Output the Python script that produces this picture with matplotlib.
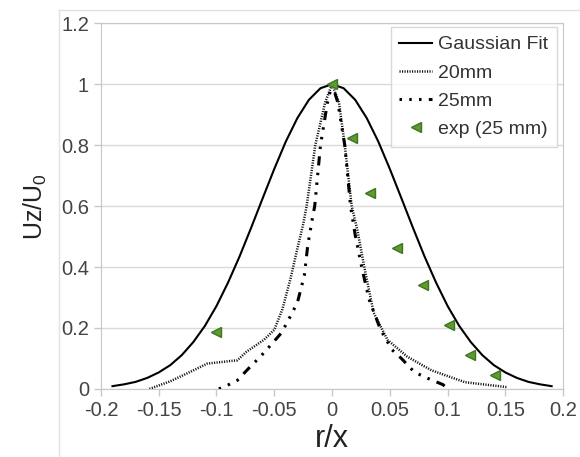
import matplotlib
matplotlib.use('Agg')
from matplotlib import pyplot as plt
from matplotlib.lines import Line2D

plt.rcParams['font.family'] = ['Liberation Sans', 'DejaVu Sans']
plt.rcParams['mathtext.default'] = 'regular'

# Gaussian fit
gauss_x = [-0.19, -0.18, -0.17, -0.16, -0.15, -0.14, -0.13, -0.12, -0.11, -0.10,
           -0.09, -0.08, -0.07, -0.06, -0.05, -0.04, -0.03, -0.02, -0.01, 0.0,
           0.01, 0.02, 0.03, 0.04, 0.05, 0.06, 0.07, 0.08, 0.09, 0.10,
           0.11, 0.12, 0.13, 0.14, 0.15, 0.16, 0.17, 0.18, 0.19]
gauss_y = [0.009, 0.015, 0.023, 0.036, 0.054, 0.078, 0.111, 0.154, 0.207, 0.272,
           0.349, 0.435, 0.529, 0.626, 0.722, 0.812, 0.889, 0.949, 0.987, 1.0,
           0.987, 0.949, 0.889, 0.812, 0.722, 0.626, 0.529, 0.435, 0.349, 0.272,
           0.207, 0.154, 0.111, 0.078, 0.054, 0.036, 0.023, 0.015, 0.009]

# 20mm
x20 = [-0.158, -0.14, -0.126, -0.108, -0.094, -0.082, -0.074, -0.059, -0.050,
       -0.043, -0.036, -0.030, -0.025, -0.022, -0.0145, -0.006, 0.0,
       0.006, 0.011, 0.017, 0.022, 0.0276, 0.036, 0.048, 0.065, 0.086, 0.115, 0.151]
y20 = [0.0, 0.025, 0.05, 0.083, 0.089, 0.094, 0.122, 0.161, 0.194,
       0.261, 0.361, 0.461, 0.54, 0.6, 0.8, 0.94, 1.0,
       0.94, 0.8, 0.6, 0.52, 0.406, 0.25, 0.161, 0.106, 0.061, 0.022, 0.006]

# 25mm
x25 = [-0.098, -0.091, -0.082, -0.071, -0.062, -0.053, -0.044, -0.039, -0.030,
       -0.024, -0.021, -0.017, -0.015, -0.010, -0.004, 0.0,
       0.005, 0.011, 0.016, 0.020, 0.026, 0.032, 0.042, 0.052, 0.060, 0.071,
       0.080, 0.096, 0.099]
y25 = [0.0, 0.011, 0.028, 0.072, 0.106, 0.144, 0.183, 0.217, 0.283,
       0.372, 0.472, 0.56, 0.6, 0.8, 0.94, 1.0,
       0.94, 0.8, 0.6, 0.506, 0.394, 0.294, 0.194, 0.128, 0.1, 0.056,
       0.039, 0.014, 0.003]

# experiment (25 mm)
exp_x = [-0.100, 0.0, 0.017, 0.033, 0.056, 0.079, 0.101, 0.119, 0.141]
exp_y = [0.186, 1.0, 0.822, 0.642, 0.461, 0.341, 0.21, 0.111, 0.046]

xticks = [-0.2, -0.15, -0.1, -0.05, 0, 0.05, 0.1, 0.15, 0.2]
xticklabels = ['-0.2', '-0.15', '-0.1', '-0.05', '0', '0.05', '0.1', '0.15', '0.2']
yticks = [0, 0.2, 0.4, 0.6, 0.8, 1, 1.2]
yticklabels = ['0', '0.2', '0.4', '0.6', '0.8', '1', '1.2']

fig = plt.figure(figsize=(5.8, 4.57), dpi=100)
ax = fig.add_axes([0.174, 0.149, 0.797, 0.800])

# faint outer frame seen in the source image
fig.add_artist(Line2D([0.102, 0.102], [0.0, 0.978], transform=fig.transFigure,
                      color='#e2e2e2', lw=1))
fig.add_artist(Line2D([0.102, 1.0], [0.978, 0.978], transform=fig.transFigure,
                      color='#e2e2e2', lw=1))

ax.plot(gauss_x, gauss_y, color='black', lw=1.5, label='Gaussian Fit')
ax.plot(x20, y20, color='#111111', lw=1.8, linestyle=(0, (0.45, 0.55)), label='20mm')
ax.plot(x25, y25, color='black', lw=2.2,
        linestyle=(0, (0.8, 2.4, 0.8, 2.4, 0.8, 2.4, 3, 2.4)), label='25mm')
ax.plot(exp_x, exp_y, linestyle='none', marker='<', markersize=7,
        markerfacecolor='#5c9b2f', markeredgecolor='#3f7420', label='exp (25 mm)')

ax.set_xlim(-0.2, 0.2)
ax.set_ylim(0, 1.2)
ax.set_xticks(xticks)
ax.set_xticklabels(xticklabels)
ax.set_yticks(yticks)
ax.set_yticklabels(yticklabels)
ax.tick_params(axis='both', colors='#c8c8c8', labelcolor='#444444',
               labelsize=14.5, length=5, width=1)
ax.grid(axis='y', color='#d9d9d9', lw=1)
ax.set_axisbelow(True)
for s in ax.spines.values():
    s.set_color('#c8c8c8')

ax.set_xlabel('r/x', fontsize=22, color='#222222', labelpad=3)
ax.set_ylabel('Uz/U$_0$', fontsize=18, color='#222222', labelpad=9)

leg = ax.legend(loc='upper right', bbox_to_anchor=(0.987, 0.99), fontsize=14,
                frameon=True, fancybox=False, handlelength=1.7, handletextpad=0.3,
                borderpad=0.45, labelspacing=0.55, borderaxespad=0)
leg.get_frame().set_edgecolor('#d0d0d0')
leg.get_frame().set_linewidth(1)
for t in leg.get_texts():
    t.set_color('#333333')

fig.savefig('out.png', dpi=100)
